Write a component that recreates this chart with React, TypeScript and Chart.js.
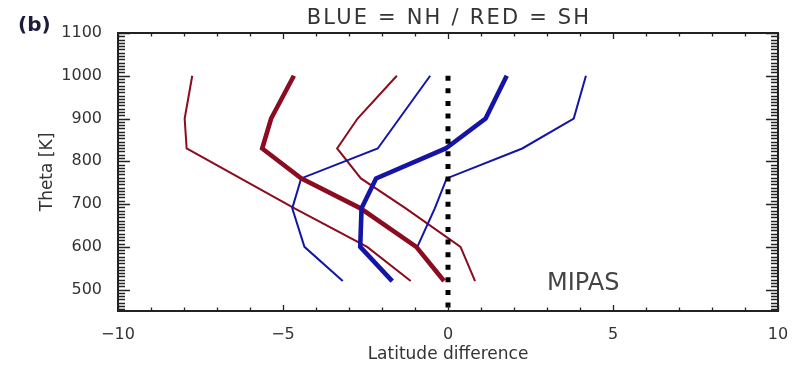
import React, { useEffect, useRef } from 'react';
import { Chart, registerables } from 'chart.js';

Chart.register(...registerables);

// ---- data ----
const thetaLevels = [520, 600, 690, 760, 830, 900, 1000];
const nhMean = [-1.69, -2.66, -2.62, -2.18, -0.07, 1.14, 1.78];
const nhLow: (number | null)[] = [-3.19, -4.35, -4.72, -4.45, -2.13, null, -0.54];
const nhHigh: (number | null)[] = [null, -0.93, -0.4, -0.04, 2.25, 3.81, 4.18];
const shMean = [-0.12, -0.96, -2.65, -4.45, -5.63, -5.36, -4.67];
const shLow: (number | null)[] = [-1.13, -2.45, -4.65, null, -7.92, -7.98, -7.75];
const shHigh = [0.82, 0.38, -1.28, -2.64, -3.36, -2.74, -1.55];
const zeroLineTheta = [1000, 450];
const zeroLineLat = [0, 0];

const xTickValues = [-10, -5, 0, 5, 10];
const xTickLabels = ['\u221210', '\u22125', '0', '5', '10'];
const yTickValues = [500, 600, 700, 800, 900, 1000, 1100];
const yTickLabels = ['500', '600', '700', '800', '900', '1000', '1100'];

const titleText = 'BLUE = NH / RED = SH';
const panelLabel = '(b)';
const instrumentLabel = 'MIPAS';
const xTitle = 'Latitude difference';
const yTitle = 'Theta [K]';

const BLUE = '#1414a8';
const RED = '#8a0c1e';
const TEXT = '#333333';
const FONT = '"DejaVu Sans", sans-serif';

const toPoints = (xs: (number | null)[]) =>
  thetaLevels
    .map((t, i) => ({ x: xs[i], y: t }))
    .filter((p) => p.x !== null) as { x: number; y: number }[];

const frameTicksPlugin = {
  id: 'frameTicks',
  afterDraw(chart: any) {
    const { ctx, chartArea } = chart;
    const xs = chart.scales.x;
    const ys = chart.scales.y;
    const { left, right, top, bottom } = chartArea;
    ctx.save();
    ctx.strokeStyle = '#222';
    ctx.lineWidth = 2;
    ctx.strokeRect(left, top, right - left, bottom - top);
    ctx.lineWidth = 1.3;
    ctx.beginPath();
    // x axis ticks (bottom + top, inward)
    for (let v = -10; v <= 10; v++) {
      const px = Math.round(xs.getPixelForValue(v)) + 0.5;
      const len = v % 5 === 0 ? 6 : 3.5;
      ctx.moveTo(px, bottom);
      ctx.lineTo(px, bottom - len);
      ctx.moveTo(px, top);
      ctx.lineTo(px, top + len);
    }
    // y axis ticks (left + right, inward)
    const step = 100 / 13;
    for (let k = -7; k <= 80; k++) {
      const v = 500 + k * step;
      if (v < 450 || v > 1100) continue;
      const py = Math.round(ys.getPixelForValue(v)) + 0.5;
      const major = k % 13 === 0;
      const len = major ? 12 : 7;
      ctx.moveTo(left, py);
      ctx.lineTo(left + len, py);
      ctx.moveTo(right, py);
      ctx.lineTo(right - len, py);
    }
    ctx.stroke();

    // texts
    const cx = (left + right) / 2;
    ctx.fillStyle = TEXT;
    ctx.textBaseline = 'alphabetic';
    ctx.font = `21px ${FONT}`;
    (ctx as any).letterSpacing = '2.2px';
    ctx.textAlign = 'center';
    ctx.fillText(titleText, cx + 1, 24);
    (ctx as any).letterSpacing = '0px';

    ctx.textAlign = 'left';
    ctx.font = `24px ${FONT}`;
    ctx.fillStyle = '#444';
    ctx.fillText(instrumentLabel, 547, 290);

    ctx.font = `bold 20px ${FONT}`;
    ctx.fillStyle = '#1c1c3a';
    ctx.fillText(panelLabel, 18, 31);
    ctx.restore();
  },
};

export default function App() {
  const ref = useRef<HTMLCanvasElement | null>(null);

  useEffect(() => {
    const canvas = ref.current;
    if (!canvas) return;
    const thin = 2;
    const thick = 4.6;
    const chart = new Chart(canvas, {
      type: 'line',
      data: {
        datasets: [
          {
            label: 'zero',
            data: zeroLineTheta.map((t, i) => ({ x: zeroLineLat[i], y: t })),
            borderColor: '#000',
            borderWidth: 5,
            borderDash: [5, 7.6],
            borderCapStyle: 'butt',
          },
          { label: 'NH mean', data: toPoints(nhMean), borderColor: BLUE, borderWidth: thick },
          { label: 'SH mean', data: toPoints(shMean), borderColor: RED, borderWidth: thick },
          { label: 'NH low', data: toPoints(nhLow), borderColor: BLUE, borderWidth: thin },
          { label: 'NH high', data: toPoints(nhHigh), borderColor: BLUE, borderWidth: thin },
          { label: 'SH low', data: toPoints(shLow), borderColor: RED, borderWidth: thin },
          { label: 'SH high', data: toPoints(shHigh), borderColor: RED, borderWidth: thin },
        ],
      } as any,
      options: {
        responsive: false,
        animation: false,
        devicePixelRatio: 1,
        layout: { padding: { left: 0, right: 22, top: 33, bottom: 0 } },
        elements: {
          point: { radius: 0, hoverRadius: 0 },
          line: { tension: 0, fill: false, borderJoinStyle: 'miter' },
        },
        plugins: {
          legend: { display: false },
          tooltip: { enabled: false },
          title: { display: false },
        },
        events: [],
        scales: {
          x: {
            type: 'linear',
            min: -10,
            max: 10,
            grid: { display: false },
            border: { display: false },
            afterBuildTicks: (s: any) => {
              s.ticks = xTickValues.map((v) => ({ value: v }));
            },
            afterFit: (s: any) => {
              s.height = 56;
            },
            ticks: {
              autoSkip: false,
              maxRotation: 0,
              padding: 6,
              color: TEXT,
              font: { family: FONT, size: 16 },
              callback: (v: any) => {
                const i = xTickValues.indexOf(Number(v));
                return i >= 0 ? xTickLabels[i] : '';
              },
            },
            title: {
              display: true,
              text: xTitle,
              color: TEXT,
              font: { family: FONT, size: 17 },
              padding: { top: 0, bottom: 2 },
            },
          },
          y: {
            type: 'linear',
            min: 450,
            max: 1100,
            grid: { display: false },
            border: { display: false },
            afterBuildTicks: (s: any) => {
              s.ticks = yTickValues.map((v) => ({ value: v }));
            },
            afterFit: (s: any) => {
              s.width = 118;
            },
            ticks: {
              autoSkip: false,
              padding: 8,
              color: TEXT,
              font: { family: FONT, size: 16 },
              callback: (v: any) => {
                const i = yTickValues.indexOf(Number(v));
                return i >= 0 ? yTickLabels[i] : '';
              },
            },
            title: {
              display: true,
              text: yTitle,
              color: TEXT,
              font: { family: FONT, size: 17 },
              padding: { top: 37, bottom: 0 },
            },
          },
        },
      } as any,
      plugins: [frameTicksPlugin],
    });
    return () => chart.destroy();
  }, []);

  return (
    <div style={{ position: 'fixed', left: 0, top: 0, width: 800, height: 367, background: '#fff' }}>
      <canvas ref={ref} width={800} height={367} style={{ display: 'block', width: 800, height: 367 }} />
    </div>
  );
}
